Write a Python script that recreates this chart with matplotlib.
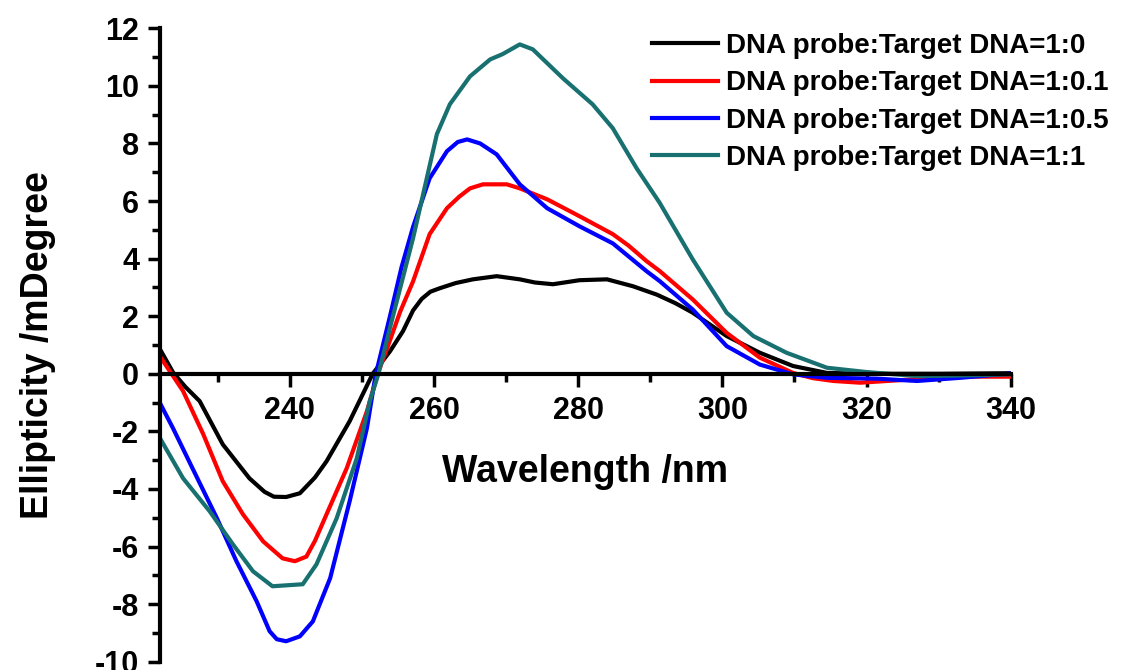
import matplotlib
matplotlib.use("Agg")
import matplotlib.pyplot as plt
from matplotlib.ticker import MultipleLocator

plt.rcParams['font.family'] = ['Liberation Sans', 'DejaVu Sans']
plt.rcParams['font.weight'] = 'bold'
plt.rcParams['axes.unicode_minus'] = False

# CD spectra (wavelength nm, ellipticity mdeg)
x_0 = [222, 223.8, 225.5, 227.5, 230.7, 234.4, 236.5, 237.8, 239.5, 241.4, 243.5, 245.1,
       248.3, 251.5, 253.9, 255.7, 257.1, 258.3, 259.5, 260.8, 263, 265.4, 268.7, 271.9,
       274, 276.5, 280.2, 284, 287.6, 290.9, 293.5, 295.9, 300.6, 305.2, 309.8, 314.5,
       320, 330, 340]
y_0 = [0.85, 0.05, -0.45, -0.95, -2.45, -3.63, -4.1, -4.27, -4.28, -4.15, -3.6, -3.04,
       -1.65, 0.0, 0.78, 1.48, 2.2, 2.6, 2.85, 2.97, 3.15, 3.28, 3.39, 3.28,
       3.17, 3.11, 3.25, 3.28, 3.04, 2.75, 2.45, 2.12, 1.31, 0.73, 0.27, 0.03,
       0.0, 0.0, 0.02]

x_01 = [222, 225.2, 228, 230.7, 233.5, 236.3, 239, 240.7, 242.3, 243.5, 245.1, 247.9,
        250.7, 252.2, 253.6, 255.3, 257.1, 259.4, 261.8, 263.5, 265, 266.8, 270.1,
        271.9, 275.7, 280.2, 284.8, 287, 289.5, 291.3, 295.9, 300.6, 305.2, 309.8,
        312.5, 315.4, 319.1, 326, 333, 340]
y_01 = [0.6, -0.6, -2.1, -3.73, -4.88, -5.82, -6.41, -6.51, -6.35, -5.8, -4.88, -3.28,
        -1.3, 0.0, 0.95, 2.15, 3.21, 4.85, 5.75, 6.15, 6.44, 6.58, 6.58,
        6.44, 6.06, 5.47, 4.85, 4.45, 3.91, 3.57, 2.58, 1.42, 0.56, 0.03,
        -0.15, -0.25, -0.31, -0.2, -0.1, -0.1]

x_05 = [222, 223.8, 226.5, 229.9, 232.6, 235.4, 237.2, 238.2, 239.5, 241.4, 243.2, 245.6,
        248.3, 250.7, 251.9, 253.9, 255.5, 257.1, 259.4, 261.8, 263.3, 264.6, 266.4,
        268.7, 271.9, 275.7, 280.2, 284.8, 289.5, 291.3, 295.9, 300.6, 305.2, 309.8,
        314.5, 321.4, 327, 333, 340]
y_05 = [-1.02, -1.89, -3.28, -5.02, -6.51, -7.9, -8.94, -9.22, -9.29, -9.12, -8.6, -7.1,
        -4.43, -1.89, -0.05, 2.0, 3.7, 5.1, 6.79, 7.73, 8.05, 8.14, 8.0,
        7.62, 6.58, 5.75, 5.12, 4.53, 3.56, 3.22, 2.23, 0.96, 0.32, -0.02,
        -0.14, -0.17, -0.25, -0.14, 0.01]

x_1 = [222, 225.2, 228.9, 232.1, 234.9, 237.6, 241.8, 243.7, 246.5, 249.3, 251.1, 252.3,
       253.9, 257.1, 260.4, 262.2, 265, 267.8, 269.5, 271.9, 273.7, 277.9, 282,
       284.8, 288.1, 291.3, 295.9, 300.6, 304.3, 308.9, 314.5, 320, 327, 333, 340]
y_1 = [-2.24, -3.63, -4.78, -5.92, -6.86, -7.38, -7.31, -6.62, -5.02, -2.93, -0.95, 0.0,
       1.6, 4.71, 8.32, 9.36, 10.33, 10.92, 11.1, 11.44, 11.27, 10.26, 9.36,
       8.53, 7.14, 5.94, 3.97, 2.12, 1.31, 0.73, 0.21, 0.06, -0.08, -0.06, -0.02]

labels = ['DNA probe:Target DNA=1:0', 'DNA probe:Target DNA=1:0.1',
          'DNA probe:Target DNA=1:0.5', 'DNA probe:Target DNA=1:1']
colors = ['black', '#ff0000', '#0000ff', '#187070']

fig = plt.figure(figsize=(11.47, 6.7), dpi=100)
ax = fig.add_axes([0.1395, 0.0124, 0.7417, 0.9454])

for xs, ys, lab, c in zip([x_0, x_01, x_05, x_1], [y_0, y_01, y_05, y_1], labels, colors):
    ax.plot(xs, ys, color=c, lw=3, label=lab, solid_joinstyle='round')

ax.set_xlim(222, 340)
ax.set_ylim(-10, 12)

ax.spines['top'].set_visible(False)
ax.spines['right'].set_visible(False)
ax.spines['bottom'].set_position(('data', 0))
ax.spines['left'].set_linewidth(3)
ax.spines['bottom'].set_linewidth(3)

ax.xaxis.set_major_locator(MultipleLocator(20))
ax.xaxis.set_minor_locator(MultipleLocator(10))
ax.yaxis.set_major_locator(MultipleLocator(2))
ax.yaxis.set_minor_locator(MultipleLocator(1))
ax.tick_params(which='major', length=9, width=2.5, labelsize=22)
ax.tick_params(which='minor', length=5.5, width=2.5)
ax.tick_params(axis='x', which='major', pad=7)
ax.tick_params(axis='y', which='major', pad=6)

ax.set_xlabel('Wavelength /nm', fontsize=27, fontweight='bold', labelpad=20)
ax.set_ylabel('Ellipticity /mDegree', fontsize=27, fontweight='bold', labelpad=28)

ax.legend(loc='upper left', bbox_to_anchor=(0.5684, 0.9507), bbox_transform=fig.transFigure,
          frameon=False, fontsize=20, handlelength=2.36, handletextpad=0.32,
          labelspacing=0.41, borderpad=0, borderaxespad=0)

fig.savefig('out.png', dpi=100)
